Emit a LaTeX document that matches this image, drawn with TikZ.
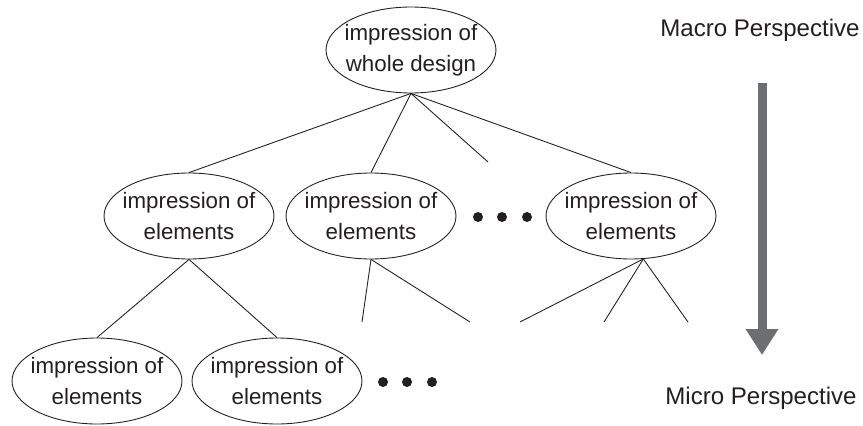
\documentclass[tikz,border=0pt]{standalone}
\usepackage{fontspec}
\setmainfont{Liberation Sans}
\usetikzlibrary{shapes.geometric,arrows.meta}
\definecolor{ink}{HTML}{231F20}
\definecolor{arrowgray}{HTML}{6D6E71}
\begin{document}
\begin{tikzpicture}[x=0.02cm,y=-0.02cm,line width=0.5pt,
	impr/.style={draw=ink,ellipse,minimum width=3.4cm,minimum height=1.72cm,inner xsep=-0.15cm,inner ysep=0pt,align=center,text=ink,font=\fontsize{12.7}{17.6}\selectfont},
	bigdot/.style={circle,fill=ink,draw=none,inner sep=0pt,minimum size=0.2cm},
	persp/.style={text=ink,font=\fontsize{13.7}{16}\selectfont}]
			\useasboundingbox (0,0) rectangle (863,426);
			% levels of the tree
			\node[impr] (whole) at (411,50) {impression of\\whole design};
			\node[impr] (elA) at (189,216) {impression of\\elements};
			\node[impr] (elB) at (371,216) {impression of\\elements};
			\node[impr] (elC) at (631,216) {impression of\\elements};
			\node[impr] (elAA) at (97,381) {impression of\\elements};
			\node[impr] (elAB) at (277,381) {impression of\\elements};
			\node[bigdot] (dA1) at (478,217) {};
			\node[bigdot] (dA2) at (502,217) {};
			\node[bigdot] (dA3) at (527,217) {};
			\node[bigdot] (dB1) at (383,382) {};
			\node[bigdot] (dB2) at (407,382) {};
			\node[bigdot] (dB3) at (432,382) {};
			% free ends of the open branches
			\coordinate (s1) at (488,162);
			\coordinate (s2) at (362,322);
			\coordinate (s3) at (470,322);
			\coordinate (s4) at (520,322);
			\coordinate (s5) at (604,322);
			\coordinate (s6) at (688,322);
			\draw[ink] (whole.south) -- (elA.north);
			\draw[ink] (whole.south) -- (elB.north);
			\draw[ink] (whole.south) -- (s1);
			\draw[ink] (whole.south) -- (elC.north);
			\draw[ink] (elA.south) -- (elAA.north);
			\draw[ink] (elA.south) -- (elAB.north);
			\draw[ink] (elB.south) -- (s2);
			\draw[ink] (elB.south) -- (s3);
			\draw[ink] (elC.-74) -- (s4);
			\draw[ink] (elC.-74) -- (s5);
			\draw[ink] (elC.-74) -- (s6);
			% perspective arrow
			\node[persp] (macro) at (760,30) {Macro Perspective};
			\node[persp] (micro) at (761,398) {Micro Perspective};
			\coordinate (arrTop) at (762,83);
			\coordinate (arrTip) at (762,355);
			\draw[arrowgray,line width=0.18cm,-{Triangle[width=0.62cm,length=0.52cm]}] (arrTop) -- (arrTip);
		\end{tikzpicture}
\end{document}
